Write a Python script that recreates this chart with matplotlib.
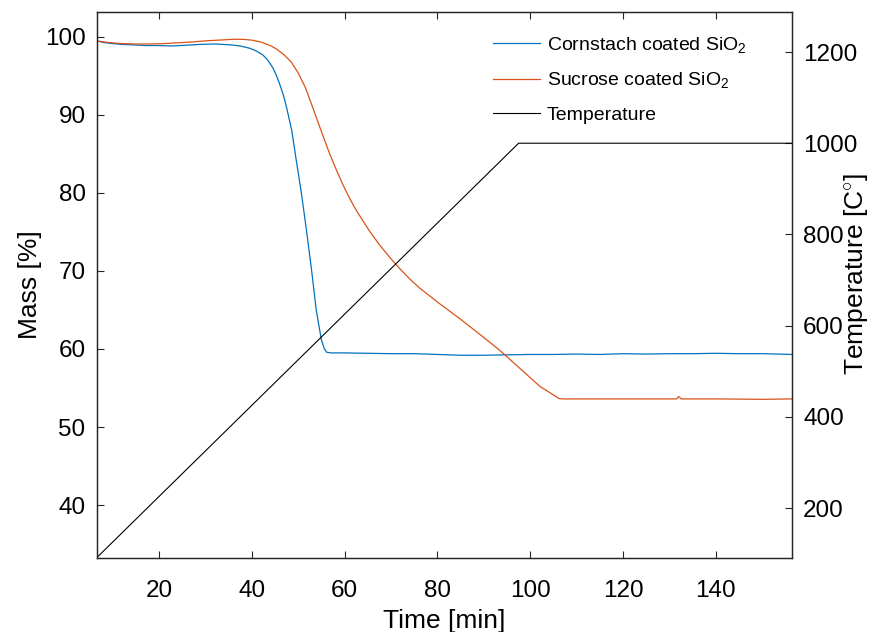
import matplotlib
matplotlib.use("Agg")
import matplotlib.pyplot as plt

# Thermogravimetric data
t_corn = [6.6, 8, 10, 12, 14, 17, 20, 23, 26, 29, 32, 35.3, 37.5, 39.6, 41.0, 42.4,
          43.5, 44.6, 45.3, 46.0, 46.8, 47.5, 48.6, 49.6, 50.7, 51.8, 52.9, 53.9,
          55.0, 55.6, 56.1, 57, 60, 65, 70, 75, 80, 85, 90, 95, 100, 105, 110, 115,
          120, 125, 130, 135, 140, 145, 150, 156.4]
m_corn = [99.5, 99.3, 99.15, 99.05, 99.0, 98.9, 98.9, 98.85, 98.95, 99.05, 99.1, 99.0,
          98.85, 98.55, 98.2, 97.7, 97.0, 96.0, 95.1, 94.0, 92.6, 91.0, 88.1, 84.2,
          80.0, 75.2, 70.1, 65.0, 61.2, 60.1, 59.6, 59.5, 59.5, 59.45, 59.4, 59.4,
          59.3, 59.2, 59.2, 59.25, 59.3, 59.3, 59.35, 59.3, 59.4, 59.35, 59.4, 59.4,
          59.45, 59.4, 59.4, 59.3]

t_sucr = [6.6, 9, 12, 15, 18, 21, 24, 27, 30, 33, 36, 38, 40, 42, 44, 45.5, 47, 48.5,
          50, 51.5, 53, 54.7, 56.8, 58.2, 59.7, 61.1, 62.5, 64.0, 65.4, 67.6, 69.8,
          71.9, 74.0, 76.2, 80.5, 84.8, 89.1, 93.5, 97.8, 102.1, 104.5, 106.2, 107,
          115, 125, 131.5, 132, 132.5, 140, 150, 156.4]
m_sucr = [99.5, 99.3, 99.15, 99.1, 99.1, 99.15, 99.25, 99.35, 99.5, 99.6, 99.7, 99.7,
          99.6, 99.35, 98.9, 98.4, 97.7, 96.8, 95.4, 93.6, 91.2, 88.4, 85.0, 83.0,
          81.0, 79.3, 77.8, 76.4, 75.1, 73.3, 71.7, 70.3, 69.0, 67.8, 65.8, 63.9,
          61.9, 59.8, 57.5, 55.2, 54.3, 53.65, 53.6, 53.6, 53.6, 53.6, 53.9, 53.6,
          53.6, 53.55, 53.6]

t_temp = [6.6, 97.5, 156.4]
temp = [91, 1000, 1000]

x_ticks = [20, 40, 60, 80, 100, 120, 140]
mass_ticks = [40, 50, 60, 70, 80, 90, 100]
temp_ticks = [200, 400, 600, 800, 1000, 1200]

plt.rcParams['font.family'] = ['Liberation Sans', 'DejaVu Sans']
plt.rcParams['mathtext.fontset'] = 'custom'
plt.rcParams['mathtext.rm'] = 'Liberation Sans'
plt.rcParams['mathtext.it'] = 'Liberation Sans'

spine_c = '#262626'
blue = '#0072BD'
orange = '#D95319'

fig = plt.figure(figsize=(8.7, 6.32), dpi=100)
ax = fig.add_axes([0.1111, 0.117, 0.7993, 0.864])
ax2 = ax.twinx()

l1, = ax.plot(t_corn, m_corn, color=blue, lw=0.9)
l2, = ax.plot(t_sucr, m_sucr, color=orange, lw=0.9)
l3, = ax2.plot(t_temp, temp, color='black', lw=0.8)

ax.set_xlim(6.6, 156.4)
ax.set_ylim(33.2, 103.2)
ax2.set_ylim(90.4, 1287.7)

ax.set_xticks(x_ticks)
ax.set_yticks(mass_ticks)
ax2.set_yticks(temp_ticks)

for a in (ax, ax2):
    for s in a.spines.values():
        s.set_color(spine_c)
        s.set_linewidth(0.9)

ax.tick_params(axis='x', direction='in', length=5, width=0.8, colors=spine_c,
               labelcolor='black', labelsize=17.5, top=True, pad=16)
ax.tick_params(axis='y', direction='in', length=5, width=0.8, colors=spine_c,
               labelcolor='black', labelsize=17.5, right=False, pad=8)
ax2.tick_params(axis='y', direction='in', length=5, width=0.8, colors=spine_c,
                labelcolor='black', labelsize=17.5, left=False, pad=8)

ax.set_xlabel('Time [min]', fontsize=19)
ax.xaxis.set_label_coords(0.5, -0.116, transform=ax.transAxes)
ax.xaxis.label.set_verticalalignment('center')
ax.set_ylabel('Mass [%]', fontsize=19)
ax.yaxis.set_label_coords(-0.096, 0.5)
ax.yaxis.label.set_verticalalignment('center')
ax2.set_ylabel(r'Temperature [C$^{\circ}$]', fontsize=19, rotation=90)
ax2.yaxis.set_label_coords(1.092, 0.52)
ax2.yaxis.label.set_verticalalignment('center')

leg = ax.legend([l1, l2, l3],
                [r'Cornstach coated SiO$_2$', r'Sucrose coated SiO$_2$', 'Temperature'],
                loc='upper left', bbox_to_anchor=(0.570, 0.958), borderaxespad=0,
                borderpad=0, frameon=False, fontsize=14, handlelength=2.4,
                handletextpad=0.35, labelspacing=0.8)

fig.savefig('out.png', dpi=100)
